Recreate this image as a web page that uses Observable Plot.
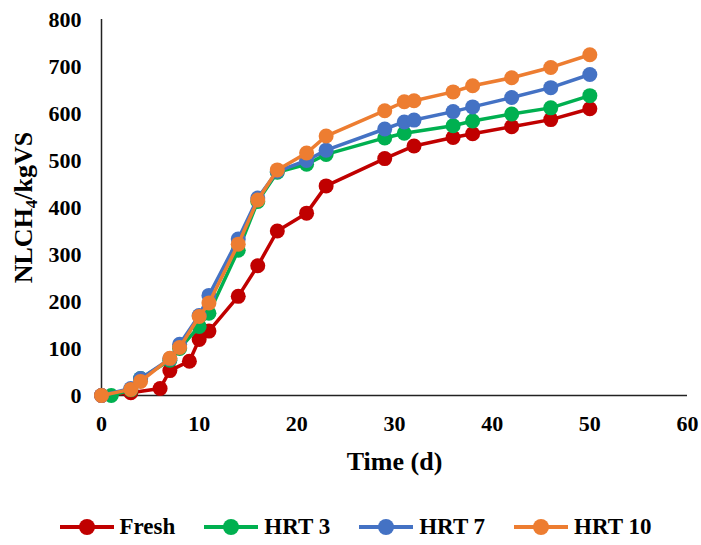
<!DOCTYPE html>
<html>
<head>
<meta charset="utf-8">
<script src="https://cdn.jsdelivr.net/npm/d3@7"></script>
<script src="https://cdn.jsdelivr.net/npm/@observablehq/plot@0.6"></script>
<style>
  body { margin: 0; background: #fff; width: 701px; }
  #chart svg { display: block; }
  g[aria-label="x-axis label"], g[aria-label="y-axis label"] { font-size: 26px; }
  #legend { display: flex; justify-content: center; gap: 29px; margin-top: 14px;
    font: bold 23px "Times New Roman", "Liberation Serif", serif; color: #000; padding-left: 10px; }
  #legend .item { display: flex; align-items: center; gap: 6px; }
</style>
</head>
<body>
<div id="chart"></div>
<div id="legend"></div>
<script>
const seriesNames = ["Fresh", "HRT 3", "HRT 7", "HRT 10"];
const seriesColors = ["#C00000", "#00B050", "#4472C4", "#ED7D31"];

const freshDays   = [0, 3, 6, 7, 9, 10, 11, 14, 16, 18, 21, 23, 29, 32, 36, 38, 42, 46, 50];
const freshValues = [0, 6, 15, 53, 73, 119, 137, 211, 276, 350, 388, 446, 504, 531, 549, 557, 572, 587, 610];

const hrt3Days   = [1, 3, 4, 7, 8, 10, 11, 14, 16, 18, 21, 23, 29, 31, 36, 38, 42, 46, 50];
const hrt3Values = [0, 12, 36, 75, 100, 147, 175, 309, 413, 475, 492, 513, 548, 558, 574, 584, 599, 612, 638];

const hrt7Days   = [0, 3, 4, 7, 8, 10, 11, 14, 16, 18, 21, 23, 29, 31, 32, 36, 38, 42, 46, 50];
const hrt7Values = [0, 15, 36, 78, 109, 170, 213, 333, 420, 477, 500, 522, 567, 582, 586, 604, 614, 634, 655, 683];

const hrt10Days   = [0, 3, 4, 7, 8, 10, 11, 14, 16, 18, 21, 23, 29, 31, 32, 36, 38, 42, 46, 50];
const hrt10Values = [0, 13, 30, 79, 102, 168, 197, 322, 416, 480, 516, 552, 606, 625, 627, 646, 659, 676, 698, 725];

const xTicks = [0, 10, 20, 30, 40, 50, 60];
const yTicks = [0, 100, 200, 300, 400, 500, 600, 700, 800];

const allDays = [freshDays, hrt3Days, hrt7Days, hrt10Days];
const allValues = [freshValues, hrt3Values, hrt7Values, hrt10Values];

const series = seriesNames.map((name, i) => ({
  name, color: seriesColors[i],
  data: allDays[i].map((d, j) => ({day: d, value: allValues[i][j], series: name}))
}));

const marks = [
  Plot.axisX({ticks: xTicks, tickSize: 0, tickPadding: 20, label: "Time (d)", labelAnchor: "center", labelArrow: false, labelOffset: 74}),
  Plot.axisY({ticks: yTicks, tickSize: 0, tickPadding: 20, label: "NLCH4/kgVS", labelAnchor: "center", labelArrow: false, labelOffset: 88}),
  Plot.ruleY([0], {stroke: "#222", strokeWidth: 1.5}),
  Plot.ruleX([0], {stroke: "#222", strokeWidth: 1.5})
];
for (const s of series) {
  marks.push(Plot.line(s.data, {x: "day", y: "value", stroke: s.color, strokeWidth: 3.5}));
  marks.push(Plot.dot(s.data, {x: "day", y: "value", r: 7.5, fill: s.color, stroke: "none"}));
}

const chart = Plot.plot({
  width: 701,
  height: 500,
  marginLeft: 101,
  marginRight: 14,
  marginTop: 19,
  marginBottom: 105,
  x: {domain: [0, 60]},
  y: {domain: [0, 800]},
  style: {fontFamily: '"Times New Roman", "Liberation Serif", serif', fontWeight: "bold", fontSize: "22px", color: "#000", background: "#fff"},
  marks
});
document.getElementById("chart").appendChild(chart);

// subscript in y-axis label
const yl = chart.querySelector('g[aria-label="y-axis label"] text');
if (yl) {
  const ns = "http://www.w3.org/2000/svg";
  yl.textContent = "";
  const parts = [["NLCH", 0, null], ["4", 5, "17px"], ["/kgVS", -5, null]];
  for (const [t, dy, fs] of parts) {
    const ts = document.createElementNS(ns, "tspan");
    ts.textContent = t;
    if (dy) ts.setAttribute("dy", dy);
    if (fs) ts.setAttribute("font-size", fs);
    yl.appendChild(ts);
  }
}

// legend
const legend = document.getElementById("legend");
series.forEach(s => {
  const item = document.createElement("div");
  item.className = "item";
  item.innerHTML = `<svg width="54" height="20"><line x1="0" x2="54" y1="10" y2="10" stroke="${s.color}" stroke-width="4"/><circle cx="27" cy="10" r="8" fill="${s.color}"/></svg><span>${s.name}</span>`;
  legend.appendChild(item);
});
</script>
</body>
</html>
